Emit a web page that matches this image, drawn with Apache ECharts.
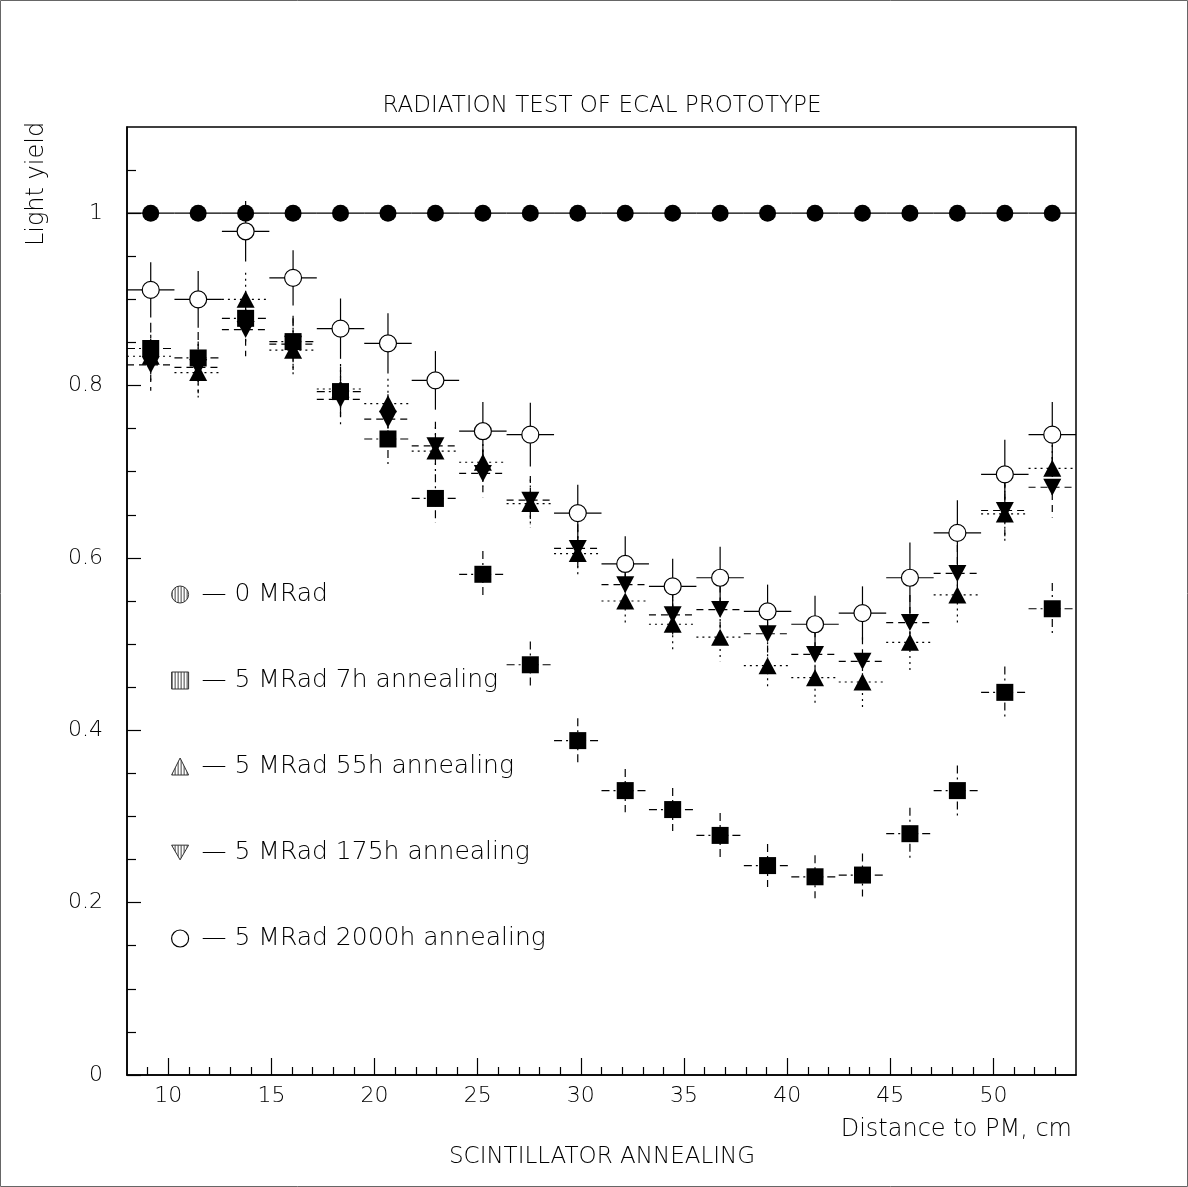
<!DOCTYPE html>
<html>
<head>
<meta charset="utf-8">
<title>Radiation test of ECAL prototype</title>
<script src="https://cdn.jsdelivr.net/npm/echarts@6/dist/echarts.min.js"></script>
<style>html,body{margin:0;padding:0;background:#fff;}</style>
</head>
<body>
<div id="main" style="width:1188px;height:1187px;"></div>
<script>
// bin centres along the scintillator, cm
var distance = [9.15, 11.45, 13.75, 16.05, 18.35, 20.65, 22.95, 25.25, 27.55, 29.85,
                32.15, 34.45, 36.75, 39.05, 41.35, 43.65, 45.95, 48.25, 50.55, 52.85];
var halfBin = 1.15;

// light yield per dose / annealing time
var y0MRad = [1, 1, 1, 1, 1, 1, 1, 1, 1, 1, 1, 1, 1, 1, 1, 1, 1, 1, 1, 1];
var y7h = [0.843, 0.832, 0.878, 0.851, 0.793, 0.738, 0.669, 0.581, 0.476, 0.388,
           0.330, 0.308, 0.278, 0.243, 0.230, 0.232, 0.280, 0.330, 0.444, 0.541];
var e7h = [0.030, 0.030, 0.031, 0.030, 0.029, 0.029, 0.028, 0.027, 0.027, 0.026,
           0.025, 0.025, 0.026, 0.025, 0.025, 0.025, 0.030, 0.029, 0.030, 0.030];
var y55h = [0.834, 0.815, 0.900, 0.841, 0.796, 0.779, 0.724, 0.711, 0.663, 0.605,
            0.550, 0.523, 0.508, 0.475, 0.461, 0.456, 0.502, 0.557, 0.651, 0.704];
var e55h = [0.030, 0.029, 0.031, 0.030, 0.029, 0.029, 0.028, 0.028, 0.028, 0.027,
            0.026, 0.029, 0.028, 0.027, 0.029, 0.029, 0.033, 0.033, 0.034, 0.034];
var y175h = [0.824, 0.821, 0.865, 0.848, 0.784, 0.761, 0.730, 0.698, 0.667, 0.611,
             0.569, 0.534, 0.540, 0.512, 0.488, 0.480, 0.525, 0.582, 0.655, 0.682];
var e175h = [0.030, 0.030, 0.031, 0.030, 0.029, 0.029, 0.028, 0.028, 0.028, 0.028,
             0.027, 0.027, 0.028, 0.028, 0.028, 0.028, 0.032, 0.033, 0.034, 0.035];
var y2000h = [0.911, 0.900, 0.979, 0.925, 0.866, 0.849, 0.806, 0.747, 0.743, 0.652,
              0.593, 0.567, 0.577, 0.538, 0.523, 0.536, 0.577, 0.629, 0.697, 0.743];
var e2000h = [0.032, 0.033, 0.035, 0.032, 0.035, 0.035, 0.034, 0.034, 0.037, 0.033,
              0.032, 0.032, 0.036, 0.031, 0.033, 0.031, 0.041, 0.038, 0.040, 0.038];

// ticks
var xLabels = [10, 15, 20, 25, 30, 35, 40, 45, 50];
var xMinor = [9, 11, 12, 13, 14, 16, 17, 18, 19, 21, 22, 23, 24, 26, 27, 28, 29, 31, 32, 33, 34,
              36, 37, 38, 39, 41, 42, 43, 44, 46, 47, 48, 49, 51, 52, 53];
var yLabels = [0, 0.2, 0.4, 0.6, 0.8, 1];
var yMinor = [0.05, 0.1, 0.15, 0.25, 0.3, 0.35, 0.45, 0.5, 0.55, 0.65, 0.7, 0.75,
              0.85, 0.9, 0.95, 1.05];

var font = 'DejaVu Sans';
var chart = echarts.init(document.getElementById('main'));

// vertical hatch for the legend icons
function hatch() {
  var c = document.createElement('canvas');
  c.width = 3; c.height = 3;
  var ctx = c.getContext('2d');
  ctx.fillStyle = '#fff'; ctx.fillRect(0, 0, 3, 3);
  ctx.fillStyle = '#444'; ctx.fillRect(0, 0, 1, 3);
  return { image: c, repeat: 'repeat' };
}

function errBars(name, ys, errs, dash) {
  return {
    type: 'custom', name: name + ' err', z: 1, silent: true,
    data: distance.map(function (x, i) { return [x, ys[i], errs ? errs[i] : 0]; }),
    encode: { x: 0, y: 1 },
    renderItem: function (params, api) {
      var x = api.value(0), y = api.value(1), e = api.value(2);
      var l = api.coord([x - halfBin, y]), r = api.coord([x + halfBin, y]);
      var ch = [{ type: 'line', shape: { x1: l[0], y1: l[1], x2: r[0], y2: r[1] },
                  style: { stroke: '#000', lineWidth: 1.2, lineDash: dash } }];
      if (e > 0) {
        var t = api.coord([x, y + e]), b = api.coord([x, y - e]);
        ch.push({ type: 'line', shape: { x1: t[0], y1: t[1], x2: b[0], y2: b[1] },
                  style: { stroke: '#000', lineWidth: 1.2, lineDash: dash } });
      }
      return { type: 'group', children: ch };
    }
  };
}

function marks(name, ys, symbol, size, style, z, rotate) {
  style.opacity = 1;
  return {
    type: 'scatter', name: name, symbol: symbol, symbolSize: size, symbolRotate: rotate || 0,
    z: z, itemStyle: style, emphasis: { disabled: true },
    data: distance.map(function (x, i) { return [x, ys[i]]; })
  };
}

var names = ['0 MRad', '5 MRad 7h annealing', '5 MRad 55h annealing',
             '5 MRad 175h annealing', '5 MRad 2000h annealing'];
var dashDot = [8, 4, 2, 4], dashed = [7, 5], dotted = [2, 4];

option = {
  backgroundColor: '#fff',
  animation: false,
  grid: { left: 127, right: 112, top: 127, bottom: 112, show: true,
          borderColor: '#000', borderWidth: 1.5 },
  xAxis: [{
    type: 'value', min: 8, max: 54,
    axisLine: { lineStyle: { color: '#000', width: 1.5 } },
    axisTick: { inside: true, length: 17, customValues: xLabels, lineStyle: { color: '#000', width: 1.2 } },
    axisLabel: { customValues: xLabels, color: '#000', fontSize: 22, fontFamily: font, fontWeight: 200, margin: 10 },
    splitLine: { show: false }
  }, {
    type: 'value', min: 8, max: 54, position: 'bottom',
    axisLine: { show: false },
    axisTick: { inside: true, length: 8, customValues: xMinor, lineStyle: { color: '#000', width: 1.2 } },
    axisLabel: { show: false },
    splitLine: { show: false }
  }],
  yAxis: [{
    type: 'value', min: 0, max: 1.1,
    axisLine: { show: true, lineStyle: { color: '#000', width: 1.5 } },
    axisTick: { show: true, inside: true, length: 14, customValues: yLabels, lineStyle: { color: '#000', width: 1.2 } },
    axisLabel: { customValues: yLabels, color: '#000', fontSize: 22, fontFamily: font, fontWeight: 200, margin: 24 },
    splitLine: { show: false }
  }, {
    type: 'value', min: 0, max: 1.1, position: 'left',
    axisLine: { show: false },
    axisTick: { show: true, inside: true, length: 9, customValues: yMinor, lineStyle: { color: '#000', width: 1.2 } },
    axisLabel: { show: false },
    splitLine: { show: false }
  }],
  legend: {
    orient: 'vertical', left: 166, top: 577, itemWidth: 17, itemHeight: 17, itemGap: 61,
    selectedMode: false,
    formatter: function (n) { return ' \u2014 ' + n; },
    textStyle: { fontSize: 25, fontFamily: font, fontWeight: 200, color: '#000', lineHeight: 23 },
    data: [
      { name: names[0], icon: 'circle', itemStyle: { color: hatch(), borderColor: '#333', borderWidth: 1 } },
      { name: names[1], icon: 'rect', itemStyle: { color: hatch(), borderColor: '#333', borderWidth: 1 } },
      { name: names[2], icon: 'triangle', itemStyle: { color: hatch(), borderColor: '#333', borderWidth: 1 } },
      { name: names[3], icon: 'path://M0,0L20,0L10,17.3Z', itemStyle: { color: hatch(), borderColor: '#333', borderWidth: 1 } },
      { name: names[4], icon: 'circle', itemStyle: { color: '#fff', borderColor: '#000', borderWidth: 1.2 } }
    ]
  },
  graphic: [
    { type: 'rect', shape: { x: 0.5, y: 0.5, width: 1187, height: 1186 }, silent: true,
      style: { fill: 'none', stroke: '#666', lineWidth: 1 } },
    { type: 'text', x: 602, y: 106, silent: true,
      style: { text: 'RADIATION TEST OF ECAL PROTOTYPE', fontSize: 23, fontFamily: font, fontWeight: 200,
               fill: '#000', align: 'center', verticalAlign: 'middle' } },
    { type: 'text', x: 1072, y: 1130, silent: true,
      style: { text: 'Distance to PM, cm', fontSize: 24, fontFamily: font, fontWeight: 200,
               fill: '#000', align: 'right', verticalAlign: 'middle' } },
    { type: 'text', x: 602, y: 1157, silent: true,
      style: { text: 'SCINTILLATOR ANNEALING', fontSize: 23, fontFamily: font, fontWeight: 200,
               fill: '#000', align: 'center', verticalAlign: 'middle' } },
    { type: 'text', x: 37, y: 184, rotation: Math.PI / 2, silent: true,
      style: { text: 'Light yield', fontSize: 24, fontFamily: font, fontWeight: 200,
               fill: '#000', align: 'center', verticalAlign: 'middle' } }
  ],
  series: [
    errBars(names[0], y0MRad, null, null),
    errBars(names[1], y7h, e7h, dashDot),
    errBars(names[2], y55h, e55h, dotted),
    errBars(names[3], y175h, e175h, dashed),
    errBars(names[4], y2000h, e2000h, null),
    marks(names[2], y55h, 'triangle', [18, 17], { color: '#000' }, 2),
    marks(names[3], y175h, 'triangle', [18, 17], { color: '#000' }, 3, 180),
    marks(names[1], y7h, 'rect', 17, { color: '#000' }, 4),
    marks(names[4], y2000h, 'circle', 17, { color: '#fff', borderColor: '#000', borderWidth: 1.2 }, 5),
    marks(names[0], y0MRad, 'circle', 17, { color: '#000' }, 6)
  ]
};

chart.setOption(option);
</script>
</body>
</html>
